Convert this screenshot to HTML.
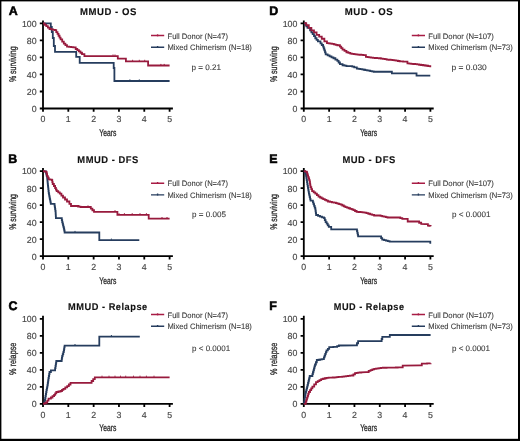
<!DOCTYPE html>
<html><head><meta charset="utf-8"><style>
html,body{margin:0;padding:0;background:#fff;}
svg{display:block;will-change:transform;}
text{font-family:"Liberation Sans",sans-serif;text-rendering:geometricPrecision;}
.let{font-weight:bold;fill:#000;stroke:#000;stroke-width:0.55px;}
.ttl{font-weight:bold;fill:#111;stroke:#111;stroke-width:0.12px;}
.tk{font-size:8.8px;fill:#474747;stroke:#474747;stroke-width:0.15px;}
.xl{fill:#2a2a2a;stroke:#2a2a2a;stroke-width:0.3px;}
.leg{fill:#3a3a3a;stroke:#3a3a3a;stroke-width:0.1px;}
.ax{stroke:#000;stroke-width:1.8;fill:none;}
.lg{stroke-width:1.4;fill:none;}
.cv{stroke-width:1.8;fill:none;stroke-linejoin:miter;}
.cm{stroke-width:1.0;fill:none;}
</style></head><body>
<svg width="520" height="441" viewBox="0 0 520 441">
<rect x="0" y="0" width="520" height="441" fill="#000"/>
<rect x="1.4" y="1.4" width="516.6" height="437.4" fill="#fff"/>
<g transform="translate(0.00 0.00)">
<text class="let" transform="translate(8.63 15.00) scale(1.0000 1)" style="font-size:12.40px;">A</text>
<text class="ttl" transform="translate(79.93 14.80) scale(0.9765 1)" style="font-size:9.80px;letter-spacing:0.55px;">MMUD - OS</text>
<path d="M43.00 20.40 V108.50 H172.90" class="ax"/>
<path d="M39.80 108.50 H43.00 M43.00 108.50 V111.70 M39.80 91.48 H43.00 M68.32 108.50 V111.70 M39.80 74.46 H43.00 M93.64 108.50 V111.70 M39.80 57.44 H43.00 M118.96 108.50 V111.70 M39.80 40.42 H43.00 M144.28 108.50 V111.70 M39.80 23.40 H43.00 M169.60 108.50 V111.70 " class="ax"/>
<text x="36.6" y="111.90" class="tk" text-anchor="end">0</text>
<text x="43.00" y="122.3" class="tk" text-anchor="middle">0</text>
<text x="36.6" y="94.88" class="tk" text-anchor="end">20</text>
<text x="68.32" y="122.3" class="tk" text-anchor="middle">1</text>
<text x="36.6" y="77.86" class="tk" text-anchor="end">40</text>
<text x="93.64" y="122.3" class="tk" text-anchor="middle">2</text>
<text x="36.6" y="60.84" class="tk" text-anchor="end">60</text>
<text x="118.96" y="122.3" class="tk" text-anchor="middle">3</text>
<text x="36.6" y="43.82" class="tk" text-anchor="end">80</text>
<text x="144.28" y="122.3" class="tk" text-anchor="middle">4</text>
<text x="36.6" y="26.80" class="tk" text-anchor="end">100</text>
<text x="169.60" y="122.3" class="tk" text-anchor="middle">5</text>
<text class="xl" transform="translate(99.37 135.80) scale(0.6957 1)" style="font-size:9.70px;">Years</text>
<text class="xl" transform="translate(15.70 82.08) rotate(-90) scale(0.7202 1)" style="font-size:9.70px">% surviving</text>
<path d="M151 35.50 H164.2 M157.6 34.20 V36.40" stroke="#a81c45" class="lg"/>
<path d="M151 47.20 H164.2 M157.6 45.90 V48.10" stroke="#263d5e" class="lg"/>
<text class="leg" transform="translate(167.49 38.70) scale(0.9619 1)" style="font-size:7.90px;">Full Donor (N=47)</text>
<text class="leg" transform="translate(167.49 50.40) scale(0.9650 1)" style="font-size:7.90px;">Mixed Chimerism (N=18)</text>
<text class="leg" transform="translate(191.41 69.70) scale(1.0256 1)" style="font-size:7.90px;">p = 0.21</text>
</g>
<g transform="translate(0.00 147.70)">
<text class="let" transform="translate(8.13 15.00) scale(1.0000 1)" style="font-size:12.40px;">B</text>
<text class="ttl" transform="translate(77.34 14.80) scale(0.9574 1)" style="font-size:9.80px;letter-spacing:0.55px;">MMUD - DFS</text>
<path d="M43.00 20.40 V108.50 H172.90" class="ax"/>
<path d="M39.80 108.50 H43.00 M43.00 108.50 V111.70 M39.80 91.48 H43.00 M68.32 108.50 V111.70 M39.80 74.46 H43.00 M93.64 108.50 V111.70 M39.80 57.44 H43.00 M118.96 108.50 V111.70 M39.80 40.42 H43.00 M144.28 108.50 V111.70 M39.80 23.40 H43.00 M169.60 108.50 V111.70 " class="ax"/>
<text x="36.6" y="111.90" class="tk" text-anchor="end">0</text>
<text x="43.00" y="122.3" class="tk" text-anchor="middle">0</text>
<text x="36.6" y="94.88" class="tk" text-anchor="end">20</text>
<text x="68.32" y="122.3" class="tk" text-anchor="middle">1</text>
<text x="36.6" y="77.86" class="tk" text-anchor="end">40</text>
<text x="93.64" y="122.3" class="tk" text-anchor="middle">2</text>
<text x="36.6" y="60.84" class="tk" text-anchor="end">60</text>
<text x="118.96" y="122.3" class="tk" text-anchor="middle">3</text>
<text x="36.6" y="43.82" class="tk" text-anchor="end">80</text>
<text x="144.28" y="122.3" class="tk" text-anchor="middle">4</text>
<text x="36.6" y="26.80" class="tk" text-anchor="end">100</text>
<text x="169.60" y="122.3" class="tk" text-anchor="middle">5</text>
<text class="xl" transform="translate(99.37 135.80) scale(0.6957 1)" style="font-size:9.70px;">Years</text>
<text class="xl" transform="translate(15.70 82.08) rotate(-90) scale(0.7202 1)" style="font-size:9.70px">% surviving</text>
<path d="M151 35.50 H164.2 M157.6 34.20 V36.40" stroke="#a81c45" class="lg"/>
<path d="M151 47.20 H164.2 M157.6 45.90 V48.10" stroke="#263d5e" class="lg"/>
<text class="leg" transform="translate(167.49 38.70) scale(0.9619 1)" style="font-size:7.90px;">Full Donor (N=47)</text>
<text class="leg" transform="translate(167.49 50.40) scale(0.9650 1)" style="font-size:7.90px;">Mixed Chimerism (N=18)</text>
<text class="leg" transform="translate(192.12 69.70) scale(1.0219 1)" style="font-size:7.90px;">p = 0.005</text>
</g>
<g transform="translate(0.00 295.40)">
<text class="let" transform="translate(8.50 15.00) scale(1.0000 1)" style="font-size:12.40px;">C</text>
<text class="ttl" transform="translate(68.05 14.80) scale(0.9433 1)" style="font-size:9.80px;letter-spacing:0.55px;">MMUD - Relapse</text>
<path d="M43.00 20.40 V108.50 H172.90" class="ax"/>
<path d="M39.80 108.50 H43.00 M43.00 108.50 V111.70 M39.80 91.48 H43.00 M68.32 108.50 V111.70 M39.80 74.46 H43.00 M93.64 108.50 V111.70 M39.80 57.44 H43.00 M118.96 108.50 V111.70 M39.80 40.42 H43.00 M144.28 108.50 V111.70 M39.80 23.40 H43.00 M169.60 108.50 V111.70 " class="ax"/>
<text x="36.6" y="111.90" class="tk" text-anchor="end">0</text>
<text x="43.00" y="122.3" class="tk" text-anchor="middle">0</text>
<text x="36.6" y="94.88" class="tk" text-anchor="end">20</text>
<text x="68.32" y="122.3" class="tk" text-anchor="middle">1</text>
<text x="36.6" y="77.86" class="tk" text-anchor="end">40</text>
<text x="93.64" y="122.3" class="tk" text-anchor="middle">2</text>
<text x="36.6" y="60.84" class="tk" text-anchor="end">60</text>
<text x="118.96" y="122.3" class="tk" text-anchor="middle">3</text>
<text x="36.6" y="43.82" class="tk" text-anchor="end">80</text>
<text x="144.28" y="122.3" class="tk" text-anchor="middle">4</text>
<text x="36.6" y="26.80" class="tk" text-anchor="end">100</text>
<text x="169.60" y="122.3" class="tk" text-anchor="middle">5</text>
<text class="xl" transform="translate(99.37 135.80) scale(0.6957 1)" style="font-size:9.70px;">Years</text>
<text class="xl" transform="translate(15.70 79.59) rotate(-90) scale(0.7519 1)" style="font-size:9.70px">% relapse</text>
<path d="M151 19.10 H164.2 M157.6 17.80 V20.00" stroke="#a81c45" class="lg"/>
<path d="M151 30.80 H164.2 M157.6 29.50 V31.70" stroke="#263d5e" class="lg"/>
<text class="leg" transform="translate(167.49 22.30) scale(0.9619 1)" style="font-size:7.90px;">Full Donor (N=47)</text>
<text class="leg" transform="translate(167.49 34.00) scale(0.9650 1)" style="font-size:7.90px;">Mixed Chimerism (N=18)</text>
<text class="leg" transform="translate(192.12 55.30) scale(1.0127 1)" style="font-size:7.90px;">p &lt; 0.0001</text>
</g>
<g transform="translate(260.80 0.00)">
<text class="let" transform="translate(8.53 15.00) scale(1.0000 1)" style="font-size:12.40px;">D</text>
<text class="ttl" transform="translate(83.93 14.80) scale(0.9781 1)" style="font-size:9.80px;letter-spacing:0.55px;">MUD - OS</text>
<path d="M43.00 20.40 V108.50 H172.90" class="ax"/>
<path d="M39.80 108.50 H43.00 M43.00 108.50 V111.70 M39.80 91.48 H43.00 M68.32 108.50 V111.70 M39.80 74.46 H43.00 M93.64 108.50 V111.70 M39.80 57.44 H43.00 M118.96 108.50 V111.70 M39.80 40.42 H43.00 M144.28 108.50 V111.70 M39.80 23.40 H43.00 M169.60 108.50 V111.70 " class="ax"/>
<text x="36.6" y="111.90" class="tk" text-anchor="end">0</text>
<text x="43.00" y="122.3" class="tk" text-anchor="middle">0</text>
<text x="36.6" y="94.88" class="tk" text-anchor="end">20</text>
<text x="68.32" y="122.3" class="tk" text-anchor="middle">1</text>
<text x="36.6" y="77.86" class="tk" text-anchor="end">40</text>
<text x="93.64" y="122.3" class="tk" text-anchor="middle">2</text>
<text x="36.6" y="60.84" class="tk" text-anchor="end">60</text>
<text x="118.96" y="122.3" class="tk" text-anchor="middle">3</text>
<text x="36.6" y="43.82" class="tk" text-anchor="end">80</text>
<text x="144.28" y="122.3" class="tk" text-anchor="middle">4</text>
<text x="36.6" y="26.80" class="tk" text-anchor="end">100</text>
<text x="169.60" y="122.3" class="tk" text-anchor="middle">5</text>
<text class="xl" transform="translate(99.37 135.80) scale(0.6957 1)" style="font-size:9.70px;">Years</text>
<text class="xl" transform="translate(15.70 82.08) rotate(-90) scale(0.7202 1)" style="font-size:9.70px">% surviving</text>
<path d="M151 35.50 H164.2 M157.6 34.20 V36.40" stroke="#a81c45" class="lg"/>
<path d="M151 47.20 H164.2 M157.6 45.90 V48.10" stroke="#263d5e" class="lg"/>
<text class="leg" transform="translate(167.48 38.70) scale(0.9746 1)" style="font-size:7.90px;">Full Donor (N=107)</text>
<text class="leg" transform="translate(167.49 50.40) scale(0.9650 1)" style="font-size:7.90px;">Mixed Chimerism (N=73)</text>
<text class="leg" transform="translate(190.70 69.70) scale(1.0651 1)" style="font-size:7.90px;">p = 0.030</text>
</g>
<g transform="translate(260.80 147.70)">
<text class="let" transform="translate(8.53 15.00) scale(1.0000 1)" style="font-size:12.40px;">E</text>
<text class="ttl" transform="translate(81.64 14.80) scale(0.9595 1)" style="font-size:9.80px;letter-spacing:0.55px;">MUD - DFS</text>
<path d="M43.00 20.40 V108.50 H172.90" class="ax"/>
<path d="M39.80 108.50 H43.00 M43.00 108.50 V111.70 M39.80 91.48 H43.00 M68.32 108.50 V111.70 M39.80 74.46 H43.00 M93.64 108.50 V111.70 M39.80 57.44 H43.00 M118.96 108.50 V111.70 M39.80 40.42 H43.00 M144.28 108.50 V111.70 M39.80 23.40 H43.00 M169.60 108.50 V111.70 " class="ax"/>
<text x="36.6" y="111.90" class="tk" text-anchor="end">0</text>
<text x="43.00" y="122.3" class="tk" text-anchor="middle">0</text>
<text x="36.6" y="94.88" class="tk" text-anchor="end">20</text>
<text x="68.32" y="122.3" class="tk" text-anchor="middle">1</text>
<text x="36.6" y="77.86" class="tk" text-anchor="end">40</text>
<text x="93.64" y="122.3" class="tk" text-anchor="middle">2</text>
<text x="36.6" y="60.84" class="tk" text-anchor="end">60</text>
<text x="118.96" y="122.3" class="tk" text-anchor="middle">3</text>
<text x="36.6" y="43.82" class="tk" text-anchor="end">80</text>
<text x="144.28" y="122.3" class="tk" text-anchor="middle">4</text>
<text x="36.6" y="26.80" class="tk" text-anchor="end">100</text>
<text x="169.60" y="122.3" class="tk" text-anchor="middle">5</text>
<text class="xl" transform="translate(99.37 135.80) scale(0.6957 1)" style="font-size:9.70px;">Years</text>
<text class="xl" transform="translate(15.70 82.08) rotate(-90) scale(0.7202 1)" style="font-size:9.70px">% surviving</text>
<path d="M151 35.50 H164.2 M157.6 34.20 V36.40" stroke="#a81c45" class="lg"/>
<path d="M151 47.20 H164.2 M157.6 45.90 V48.10" stroke="#263d5e" class="lg"/>
<text class="leg" transform="translate(167.48 38.70) scale(0.9746 1)" style="font-size:7.90px;">Full Donor (N=107)</text>
<text class="leg" transform="translate(167.49 50.40) scale(0.9650 1)" style="font-size:7.90px;">Mixed Chimerism (N=73)</text>
<text class="leg" transform="translate(191.21 69.70) scale(1.0235 1)" style="font-size:7.90px;">p &lt; 0.0001</text>
</g>
<g transform="translate(260.80 295.40)">
<text class="let" transform="translate(8.53 15.00) scale(1.0000 1)" style="font-size:12.40px;">F</text>
<text class="ttl" transform="translate(72.96 14.80) scale(0.9337 1)" style="font-size:9.80px;letter-spacing:0.55px;">MUD - Relapse</text>
<path d="M43.00 20.40 V108.50 H172.90" class="ax"/>
<path d="M39.80 108.50 H43.00 M43.00 108.50 V111.70 M39.80 91.48 H43.00 M68.32 108.50 V111.70 M39.80 74.46 H43.00 M93.64 108.50 V111.70 M39.80 57.44 H43.00 M118.96 108.50 V111.70 M39.80 40.42 H43.00 M144.28 108.50 V111.70 M39.80 23.40 H43.00 M169.60 108.50 V111.70 " class="ax"/>
<text x="36.6" y="111.90" class="tk" text-anchor="end">0</text>
<text x="43.00" y="122.3" class="tk" text-anchor="middle">0</text>
<text x="36.6" y="94.88" class="tk" text-anchor="end">20</text>
<text x="68.32" y="122.3" class="tk" text-anchor="middle">1</text>
<text x="36.6" y="77.86" class="tk" text-anchor="end">40</text>
<text x="93.64" y="122.3" class="tk" text-anchor="middle">2</text>
<text x="36.6" y="60.84" class="tk" text-anchor="end">60</text>
<text x="118.96" y="122.3" class="tk" text-anchor="middle">3</text>
<text x="36.6" y="43.82" class="tk" text-anchor="end">80</text>
<text x="144.28" y="122.3" class="tk" text-anchor="middle">4</text>
<text x="36.6" y="26.80" class="tk" text-anchor="end">100</text>
<text x="169.60" y="122.3" class="tk" text-anchor="middle">5</text>
<text class="xl" transform="translate(99.37 135.80) scale(0.6957 1)" style="font-size:9.70px;">Years</text>
<text class="xl" transform="translate(15.70 79.59) rotate(-90) scale(0.7519 1)" style="font-size:9.70px">% relapse</text>
<path d="M151 19.10 H164.2 M157.6 17.80 V20.00" stroke="#a81c45" class="lg"/>
<path d="M151 30.80 H164.2 M157.6 29.50 V31.70" stroke="#263d5e" class="lg"/>
<text class="leg" transform="translate(167.48 22.30) scale(0.9746 1)" style="font-size:7.90px;">Full Donor (N=107)</text>
<text class="leg" transform="translate(167.49 34.00) scale(0.9650 1)" style="font-size:7.90px;">Mixed Chimerism (N=73)</text>
<text class="leg" transform="translate(191.22 55.30) scale(1.0127 1)" style="font-size:7.90px;">p &lt; 0.0001</text>
</g>
<path d="M43.00 23.40 L50.80 23.40 L50.80 27.00 L51.80 27.00 L51.80 32.00 L52.80 32.00 L52.80 38.00 L53.80 38.00 L53.80 46.00 L55.00 46.00 L55.00 51.80 L76.20 51.80 L76.20 56.90 L79.70 56.90 L79.70 62.80 L113.70 62.80 L113.70 68.00 L114.40 68.00 L114.40 81.00 L169.60 81.00" class="cv" stroke="#263d5e"/>
<path d="M43.00 23.40 H44.62 V24.80 H46.25 V26.20 H47.88 V27.60 H49.50 V29.00 H51.33 V29.40 H53.17 V29.80 H55.00 V30.20 H56.25 V32.05 H57.50 V33.90 H58.53 V35.73 H59.57 V37.57 H60.60 V39.40 H62.20 V41.55 H63.80 V43.70 H65.40 V45.15 H67.00 V46.60 H69.10 V46.87 H71.20 V47.13 H73.30 V47.40 H75.70 V49.00 H77.30 V50.15 H78.90 V51.30 H80.45 V52.75 H82.00 V54.20 H84.40 V56.10 L117.80 56.10 L117.80 58.70 L125.90 58.70 L125.90 61.40 L148.10 61.40 L148.10 65.50 L169.60 65.50" class="cv" stroke="#981a3d"/>
<path d="M113.00 54.50 V55.60 M115.00 54.50 V55.60 M132.60 59.80 V60.90 M139.30 59.80 V60.90 M144.70 59.80 V60.90 M160.90 63.90 V65.00 M164.20 63.90 V65.00 " class="cm" stroke="#981a3d"/>
<path d="M129.90 79.40 V80.50 M139.30 79.40 V80.50 " class="cm" stroke="#263d5e"/>
<path d="M43.00 171.10 L45.60 171.30 H45.98 V172.90 H46.35 V174.50 H46.73 V176.10 H47.10 V177.70 H47.30 V179.67 H47.50 V181.65 H47.70 V183.62 H47.90 V185.60 H48.10 V187.40 H48.30 V189.20 H48.50 V191.00 H48.70 V192.80 H48.97 V194.37 H49.23 V195.93 H49.50 V197.50 H49.83 V199.10 H50.15 V200.70 H50.47 V202.30 H50.80 V203.90 L54.30 203.90 H54.56 V205.64 H54.82 V207.38 H55.08 V209.12 H55.34 V210.86 H55.60 V212.60 H55.70 V214.47 H55.80 V216.33 H55.90 V218.20 L61.40 218.20 H61.80 V220.15 H62.20 V222.10 H62.60 V223.70 H63.00 V225.30 H63.40 V226.90 H63.80 V228.50 H64.20 V230.50 H64.60 V232.50 L99.30 232.50 L99.30 240.20 L139.30 240.20" class="cv" stroke="#263d5e"/>
<path d="M43.00 171.10 H44.65 V171.60 H46.30 V172.10 H46.70 V174.10 H47.10 V176.10 H47.90 V177.70 H48.70 V179.30 H50.30 V179.70 H51.90 V180.10 H52.30 V182.05 H52.70 V184.00 H53.90 V186.00 H55.10 V188.00 H55.90 V189.60 H56.70 V191.20 H58.25 V192.40 H59.80 V193.60 H61.40 V195.55 H63.00 V197.50 H65.00 V199.50 H67.00 V201.50 H69.40 V203.90 H71.00 V206.00 L78.10 206.00 L78.10 206.60 H80.50 V207.00 L90.80 207.00 L90.80 208.70 H92.40 V210.25 H94.00 V211.80 L117.40 211.80 L117.40 214.80 L148.70 214.80 L148.70 218.60 L169.60 218.60" class="cv" stroke="#981a3d"/>
<path d="M79.00 205.00 V206.10 M88.00 205.40 V206.50 M115.00 210.20 V211.30 M119.00 213.20 V214.30 M124.40 213.20 V214.30 M132.20 213.20 V214.30 M140.00 213.20 V214.30 M146.40 213.20 V214.30 M162.00 217.00 V218.10 M167.00 217.00 V218.10 " class="cm" stroke="#981a3d"/>
<path d="M75.00 230.90 V232.00 M111.40 238.60 V239.70 " class="cm" stroke="#263d5e"/>
<path d="M43.00 403.90 H44.50 V402.00 H44.83 V400.00 H45.17 V398.00 H45.50 V396.00 H45.83 V394.00 H46.17 V392.00 H46.50 V390.00 H46.83 V388.33 H47.17 V386.67 H47.50 V385.00 H47.75 V383.25 H48.00 V381.50 H48.25 V379.75 H48.50 V378.00 H48.83 V376.00 H49.17 V374.00 H49.50 V372.00 H50.90 V370.30 L54.70 370.30 H55.10 V368.15 H55.50 V366.00 H55.77 V364.33 H56.03 V362.67 H56.30 V361.00 L61.40 361.00 H61.67 V359.30 H61.93 V357.60 H62.20 V355.90 H62.73 V354.03 H63.27 V352.17 H63.80 V350.30 H64.07 V348.73 H64.33 V347.17 H64.60 V345.60 L99.30 345.60 L99.30 336.60 L139.80 336.60" class="cv" stroke="#263d5e"/>
<path d="M43.00 403.90 H44.50 V403.20 H46.00 V402.50 H47.25 V400.55 H48.50 V398.60 H50.90 V397.50 H52.50 V396.15 H54.10 V394.80 H55.20 V393.40 H56.30 V392.00 H58.45 V391.50 H60.60 V391.00 H62.00 V389.90 H63.40 V388.80 H65.30 V387.45 H67.20 V386.10 H68.85 V384.50 H70.50 V382.90 L90.80 382.90 H91.60 V381.00 H93.20 V379.15 H94.80 V377.30 L169.60 377.30" class="cv" stroke="#981a3d"/>
<path d="M102.00 375.70 V376.80 M109.00 375.70 V376.80 M115.00 375.70 V376.80 M120.50 375.70 V376.80 M125.70 375.70 V376.80 M133.50 375.70 V376.80 M140.00 375.70 V376.80 M146.40 375.70 V376.80 M154.00 375.70 V376.80 " class="cm" stroke="#981a3d"/>
<path d="M75.00 344.00 V345.10 M111.40 335.00 V336.10 " class="cm" stroke="#263d5e"/>
<path d="M304.12 23.19 H305.24 V24.75 H306.37 V26.31 H307.49 V27.87 H310.09 V30.46 H311.38 V32.28 H312.68 V34.10 H313.98 V36.17 H315.28 V38.25 H316.58 V39.81 H317.88 V41.37 H320.47 V43.44 H321.77 V45.00 H323.07 V46.56 H323.72 V48.50 H324.37 V50.45 H325.01 V52.40 H325.66 V54.35 H327.61 V55.38 H329.56 V56.42 H331.50 V57.33 H333.45 V58.24 H335.40 V59.54 H337.35 V60.84 H338.64 V62.52 H339.94 V64.21 H342.54 V65.25 H344.49 V65.64 H346.43 V66.03 L350.33 66.03 H352.27 V66.68 H354.22 V67.33 H356.82 V68.62 H358.55 V68.88 H360.28 V69.14 H362.01 V69.40 H363.63 V69.73 H365.25 V70.05 H366.88 V70.38 H368.50 V70.70 H370.23 V71.05 H371.96 V71.39 H373.69 V71.74 L389.27 71.74 H391.87 V73.30 L415.23 73.30 H416.53 V75.63 L430.29 75.63" class="cv" stroke="#263d5e"/>
<path d="M304.12 23.19 H306.19 V25.27 H308.79 V27.87 H311.38 V30.46 H313.98 V32.28 H316.58 V34.88 H319.17 V36.69 H321.77 V38.77 H324.37 V41.37 H326.96 V43.18 H328.69 V43.44 H330.42 V43.70 H332.15 V43.96 H333.88 V44.39 H335.62 V44.83 H337.35 V45.26 H339.94 V46.56 H341.24 V48.12 H342.54 V49.67 H344.49 V50.97 H346.43 V52.27 H348.38 V52.92 H350.33 V53.57 H352.06 V53.83 H353.79 V54.09 H355.52 V54.35 H357.47 V54.54 H359.41 V54.74 H361.36 V54.93 H363.31 V55.12 H365.90 V56.94 H367.63 V57.20 H369.37 V57.46 H371.10 V57.72 H373.04 V57.85 H374.99 V57.98 H376.94 V58.11 H378.88 V58.24 H380.83 V58.56 H382.78 V58.89 H384.73 V59.21 H386.67 V59.54 H388.62 V59.73 H390.57 V59.93 H392.51 V60.12 H394.46 V60.32 H396.19 V60.66 H397.92 V61.01 H399.65 V61.36 H401.38 V61.44 H403.12 V61.53 H404.85 V61.62 H407.44 V63.43 H409.39 V63.63 H411.34 V63.82 H413.28 V64.02 H415.23 V64.21 H417.18 V64.47 H419.12 V64.73 H421.07 V64.99 H423.02 V65.25 H424.75 V65.51 H426.48 V65.77 H428.21 V66.03 H430.29 V67.33" class="cv" stroke="#981a3d"/>
<path d="M303.80 171.10 H304.80 V172.80 H305.80 V174.50 H306.10 V176.40 H306.40 V178.30 H306.70 V180.20 H307.00 V182.10 H307.30 V184.00 H307.62 V185.92 H307.94 V187.84 H308.26 V189.76 H308.58 V191.68 H308.90 V193.60 H309.30 V195.38 H309.70 V197.15 H310.10 V198.92 H310.50 V200.70 H312.90 V202.30 H313.50 V204.08 H314.10 V205.85 H314.70 V207.62 H315.30 V209.40 H315.57 V211.27 H315.83 V213.13 H316.10 V215.00 H318.05 V215.80 H320.00 V216.60 H322.00 V217.40 H324.00 V218.20 H324.80 V220.15 H325.60 V222.10 H326.67 V223.70 H327.73 V225.30 H328.80 V226.90 H331.20 V229.30 L356.60 229.30 H356.98 V231.08 H357.35 V232.85 H357.73 V234.62 H358.10 V236.40 L380.10 236.40 H381.15 V238.05 H382.20 V239.70 H384.05 V240.20 H385.90 V240.70 H387.75 V241.20 H389.60 V241.70 L429.30 241.70 H430.30 V243.70" class="cv" stroke="#263d5e"/>
<path d="M303.80 171.10 H305.20 V171.60 H306.60 V172.10 H307.10 V173.70 H307.60 V175.30 H308.10 V176.90 H308.63 V178.50 H309.17 V180.10 H309.70 V181.70 H309.97 V183.53 H310.23 V185.37 H310.50 V187.20 H311.30 V189.20 H312.10 V191.20 H313.70 V192.40 H315.30 V193.60 H316.90 V195.15 H318.50 V196.70 H320.07 V197.50 H321.63 V198.30 H323.20 V199.10 H324.80 V199.90 H326.40 V200.70 H328.00 V201.50 H329.98 V201.90 H331.95 V202.30 H333.92 V202.70 H335.90 V203.10 H337.50 V203.63 H339.10 V204.17 H340.70 V204.70 H342.27 V205.50 H343.83 V206.30 H345.40 V207.10 H347.00 V207.68 H348.60 V208.25 H350.20 V208.82 H351.80 V209.40 H353.40 V210.20 H355.00 V211.00 H356.60 V211.80 H358.58 V212.00 H360.55 V212.20 H362.52 V212.40 H364.50 V212.60 H366.42 V213.18 H368.34 V213.76 H370.26 V214.34 H372.18 V214.92 H374.10 V215.50 L378.80 215.50 H380.54 V215.90 H382.28 V216.30 H384.02 V216.70 H385.76 V217.10 H387.50 V217.50 L398.30 217.50 H400.30 V218.15 H402.30 V218.80 L406.40 218.80 H407.70 V221.50 L417.10 221.50 H419.15 V222.75 H421.20 V224.00 L425.20 224.20 H427.90 V225.60 H429.25 V225.90 H430.60 V226.20" class="cv" stroke="#981a3d"/>
<path d="M303.80 403.90 H304.05 V402.20 H304.30 V400.50 H304.55 V398.80 H304.80 V397.10 H305.05 V395.40 H305.30 V393.70 H305.75 V391.92 H306.20 V390.13 H306.65 V388.35 H307.10 V386.57 H307.55 V384.78 H308.00 V383.00 H308.43 V381.25 H308.85 V379.50 H309.27 V377.75 H309.70 V376.00 H312.40 V374.20 H312.92 V372.26 H313.44 V370.32 H313.96 V368.38 H314.48 V366.44 H315.00 V364.50 H315.90 V362.25 H316.80 V360.00 H318.57 V359.73 H320.33 V359.47 H322.10 V359.20 H323.90 V357.40 H324.55 V355.65 H325.20 V353.90 H325.85 V352.15 H326.50 V350.40 H327.85 V348.80 H329.20 V347.20 H331.27 V347.07 H333.33 V346.93 H335.40 V346.80 H337.15 V346.15 H338.90 V345.50 L355.80 345.30 H356.95 V343.25 H358.10 V341.20 L381.00 341.20 H381.65 V339.00 H382.30 V336.80 L389.10 336.80 H389.80 V335.00 L430.60 335.00" class="cv" stroke="#263d5e"/>
<path d="M303.80 403.90 H305.80 V401.50 H306.40 V399.60 H307.00 V397.70 H307.60 V395.80 H308.20 V393.90 H308.80 V392.00 H310.00 V390.20 H311.20 V388.40 H312.40 V386.60 H314.20 V384.40 H316.00 V382.20 H317.73 V381.20 H319.47 V380.20 H321.20 V379.20 H322.97 V378.73 H324.73 V378.27 H326.50 V377.80 H328.57 V377.70 H330.63 V377.60 H332.70 V377.50 H334.62 V377.32 H336.54 V377.14 H338.46 V376.96 H340.38 V376.78 H342.30 V376.60 H344.20 V376.38 H346.10 V376.16 H348.00 V375.94 H349.90 V375.72 H351.80 V375.50 H353.40 V374.30 H355.00 V373.10 H356.57 V372.90 H358.15 V372.70 H359.73 V372.50 H361.30 V372.30 L366.00 372.20 H368.70 V370.80 H370.53 V370.13 H372.37 V369.47 H374.20 V368.80 H375.90 V368.55 H377.60 V368.30 H379.30 V368.05 H381.00 V367.80 H382.85 V367.76 H384.71 V367.73 H386.56 V367.69 H388.42 V367.65 H390.27 V367.62 H392.13 V367.58 H393.98 V367.55 H395.84 V367.51 H397.69 V367.47 H399.55 V367.44 H401.40 V367.40 H402.70 V365.60 L420.40 365.40 H421.80 V363.70 H423.56 V363.62 H425.32 V363.54 H427.08 V363.46 H428.84 V363.38 H430.60 V363.30" class="cv" stroke="#981a3d"/>
</svg>
</body></html>
